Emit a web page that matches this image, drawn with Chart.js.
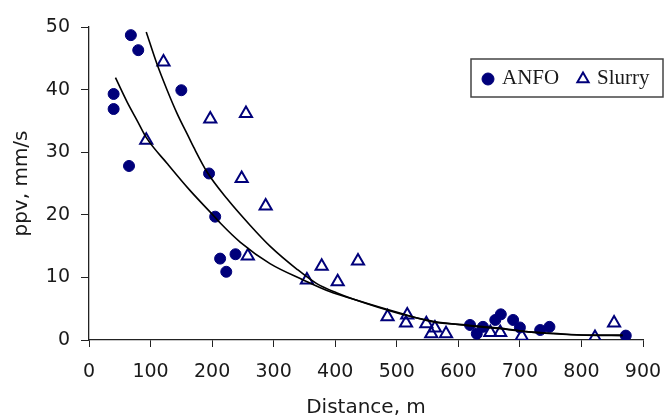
<!DOCTYPE html>
<html>
<head>
<meta charset="utf-8">
<script src="https://cdn.jsdelivr.net/npm/chart.js@4/dist/chart.umd.min.js"></script>
<style>
    html, body { margin: 0; padding: 0; background: #fff; }
    #wrap { width: 665px; height: 420px; }
</style>
</head>
<body>
<div id="wrap"><canvas id="ppvChart" width="665" height="420"></canvas></div>
<script>
// measured blasts
const anfoX = [40, 40, 65, 68, 80, 150, 195, 205, 213, 223, 238, 619, 630, 640, 660, 669, 689, 700, 733, 748, 872];
const anfoY = [39.3, 36.9, 27.8, 48.7, 46.3, 39.9, 26.6, 19.7, 13.0, 10.9, 13.7, 2.4, 1.0, 2.1, 3.2, 4.1, 3.2, 2.0, 1.6, 2.1, 0.7];

const slurryX = [93, 121, 197, 248, 255, 258, 287, 354, 378, 404, 437, 485, 515, 517, 548, 556, 562, 580, 652, 668, 703, 822, 853];
const slurryY = [31.9, 44.4, 35.3, 25.8, 36.2, 13.4, 21.4, 9.6, 11.8, 9.3, 12.6, 3.7, 2.7, 4.0, 2.6, 1.0, 1.9, 1.0, 1.2, 1.2, 0.6, 0.4, 2.7];

// fitted curves
const fitAX = [43, 62, 78, 94, 127, 164, 202, 214, 246, 294, 348, 392, 430, 505, 559, 614, 668, 714, 754, 808, 867];
const fitAY = [41.9, 38.0, 35.1, 32.2, 28.2, 23.9, 19.9, 18.6, 15.6, 12.2, 9.6, 7.7, 6.5, 4.3, 2.9, 2.4, 1.9, 1.3, 1.07, 0.8, 0.8];

const fitBX = [93, 110, 127, 143, 163, 170, 192, 224, 262, 294, 338, 370, 403, 430, 505, 559, 614, 668, 714, 754, 808, 867];
const fitBY = [49.2, 44.2, 39.9, 36.2, 32.2, 30.8, 26.8, 22.6, 18.3, 15.0, 11.3, 9.0, 7.5, 6.5, 4.2, 3.0, 2.3, 1.8, 1.3, 1.0, 0.75, 0.7];

const xTicks = [0, 100, 200, 300, 400, 500, 600, 700, 800, 900];
const yTicks = [0, 10, 20, 30, 40, 50];

const navy = "#00007a";
const ink = "#1a1a1a";

function toPoints(xs, ys) {
    return xs.map((x, i) => ({ x: x, y: ys[i] }));
}

// legend box drawn inside the plot, like the original
const boxLegend = {
    id: "boxLegend",
    afterDraw(chart) {
        const ctx = chart.ctx;
        const items = chart.data.datasets.filter(d => d.inLegend);
        ctx.save();
        ctx.fillStyle = "#fff";
        ctx.fillRect(471, 59, 192, 38);
        ctx.strokeStyle = "#444";
        ctx.lineWidth = 1.5;
        ctx.strokeRect(471, 59, 192, 38);
        ctx.font = "21px 'Liberation Serif'";
        ctx.textBaseline = "middle";
        const slots = [{ mx: 488, tx: 502 }, { mx: 583, tx: 597 }];
        items.forEach((d, i) => {
            const s = slots[i];
            ctx.fillStyle = d.backgroundColor;
            ctx.strokeStyle = d.borderColor;
            ctx.lineWidth = d.pointBorderWidth || 1;
            Chart.helpers.drawPoint(ctx, {
                pointStyle: d.pointStyle,
                radius: d.pointStyle === "triangle" ? 6.5 : 6,
                borderWidth: d.pointBorderWidth || 1
            }, s.mx, 79);
            ctx.fillStyle = ink;
            ctx.fillText(d.label, s.tx, 78);
        });
        ctx.restore();
    }
};

const ctx = document.getElementById("ppvChart").getContext("2d");

new Chart(ctx, {
    type: "scatter",
    data: {
        datasets: [
            {
                label: "fitA",
                data: toPoints(fitAX, fitAY),
                showLine: true,
                borderColor: "#000",
                borderWidth: 1.6,
                pointRadius: 0,
                cubicInterpolationMode: "monotone"
            },
            {
                label: "fitB",
                data: toPoints(fitBX, fitBY),
                showLine: true,
                borderColor: "#000",
                borderWidth: 1.6,
                pointRadius: 0,
                cubicInterpolationMode: "monotone"
            },
            {
                label: "ANFO",
                inLegend: true,
                data: toPoints(anfoX, anfoY),
                pointStyle: "circle",
                pointRadius: 5.5,
                backgroundColor: navy,
                borderColor: navy,
                pointBorderWidth: 1
            },
            {
                label: "Slurry",
                inLegend: true,
                data: toPoints(slurryX, slurryY),
                pointStyle: "triangle",
                pointRadius: 7,
                backgroundColor: "rgba(255,255,255,0)",
                borderColor: navy,
                pointBorderWidth: 2
            }
        ]
    },
    options: {
        responsive: false,
        animation: false,
        layout: { padding: { top: 27, right: 22, left: 0, bottom: 0 } },
        plugins: {
            legend: { display: false },
            tooltip: { enabled: false }
        },
        scales: {
            x: {
                type: "linear",
                min: 0,
                max: 900,
                afterBuildTicks: s => { s.ticks = xTicks.map(v => ({ value: v })); },
                afterFit: s => { s.height = 80; s.paddingLeft = 0; s.paddingRight = 0; },
                grid: { display: true, drawOnChartArea: false, drawTicks: true, tickLength: 7, color: "#222" },
                border: { display: true, color: "#222", width: 1.3 },
                ticks: { color: ink, font: { family: "'DejaVu Sans'", size: 19 }, padding: 14, maxRotation: 0 },
                title: { display: true, text: "Distance, m", color: ink, font: { family: "'DejaVu Sans'", size: 20 }, padding: { top: 0, bottom: 0 } }
            },
            y: {
                type: "linear",
                min: 0,
                max: 50,
                afterBuildTicks: s => { s.ticks = yTicks.map(v => ({ value: v })); },
                afterFit: s => { s.width = 89; },
                grid: { display: true, drawOnChartArea: false, drawTicks: true, tickLength: 8, color: "#222" },
                border: { display: true, color: "#222", width: 1.3 },
                ticks: { color: ink, font: { family: "'DejaVu Sans'", size: 19 }, padding: 11 },
                title: { display: true, text: "ppv, mm/s", color: ink, font: { family: "'DejaVu Sans'", size: 20 }, padding: { top: 10, bottom: 0 } }
            }
        }
    },
    plugins: [boxLegend]
});
</script>
</body>
</html>
